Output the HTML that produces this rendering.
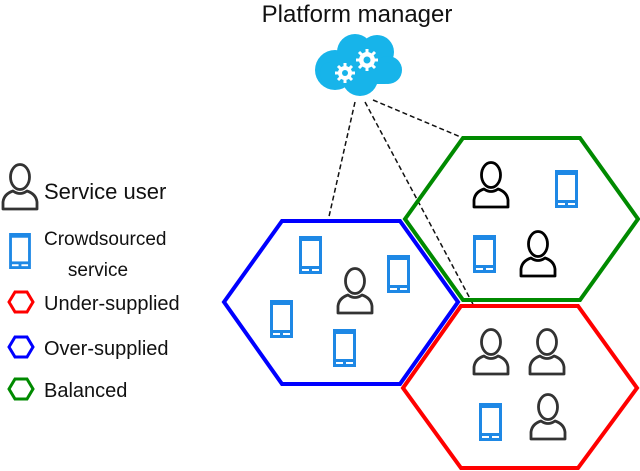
<!DOCTYPE html>
<html><head><meta charset="utf-8"><style>
html,body{margin:0;padding:0;background:#fff;}
svg{display:block;}
text{font-family:"Liberation Sans",sans-serif;fill:#111;}
</style></head><body>
<svg width="640" height="471" viewBox="0 0 640 471" xmlns="http://www.w3.org/2000/svg">
<defs>
<symbol id="p" viewBox="0 0 38 48"><ellipse cx="19" cy="14" rx="9.5" ry="12.5" fill="none" stroke="currentColor" stroke-width="2.8"/><path d="M2,46 V39 Q3,31 12,28 Q19,33 26,28 Q35,31 36,39 V46 Z" fill="none" stroke="currentColor" stroke-width="2.8" stroke-linejoin="round"/></symbol>
<symbol id="t" viewBox="0 0 23 38"><rect x="0" y="0" width="23" height="38" fill="#1e88e5"/><rect x="3" y="5" width="17" height="25" fill="#fff"/><rect x="3" y="33" width="7" height="2" fill="#fff"/><rect x="13" y="33" width="7" height="2" fill="#fff"/></symbol>
</defs>
<text x="357" y="22" font-size="24" text-anchor="middle">Platform manager</text>
<!-- cloud -->
<g fill="#17b4ea">
<circle cx="335" cy="70" r="20"/><circle cx="355" cy="52" r="18"/><circle cx="377" cy="52" r="17"/><circle cx="388" cy="70" r="14"/><circle cx="360" cy="78" r="18"/><rect x="320" y="62" width="75" height="22" rx="10"/>
</g>
<g fill="#fff">
<circle cx="345" cy="73" r="7"/><circle cx="367" cy="60" r="8"/>
</g>
<g fill="none" stroke="#17b4ea"><circle cx="345" cy="73" r="3" fill="#17b4ea" stroke="none"/><circle cx="367" cy="60" r="3.5" fill="#17b4ea" stroke="none"/></g>
<g stroke="#fff" stroke-width="3"><path d="M345,63V83M335,73H355M338,66L352,80M352,66L338,80"/><path d="M367,49V71M356,60H378M359,52L375,68M375,52L359,68"/></g>
<circle cx="345" cy="73" r="3" fill="#17b4ea"/><circle cx="367" cy="60" r="3.5" fill="#17b4ea"/>
<!-- dashed -->
<g stroke="#111" stroke-width="1.5" stroke-dasharray="5,3" fill="none">
<path d="M355,102 L328,221"/><path d="M365,102 L474,306"/><path d="M373,100 L463,138"/>
</g>
<!-- hexagons -->
<polygon points="224,302 282,221 400,221 458,302 400,384 282,384" fill="none" stroke="#0000ff" stroke-width="4"/>
<polygon points="405,219 463,138 580,138 638,219 580,300 463,300" fill="none" stroke="#008a00" stroke-width="4"/>
<polygon points="403,388 461,306 578,306 637,388 578,468 461,468" fill="none" stroke="#ff0000" stroke-width="4"/>
<!-- blue -->
<use href="#t" x="299" y="236" width="23" height="38"/>
<use href="#t" x="387" y="255" width="23" height="38"/>
<use href="#t" x="270" y="300" width="23" height="38"/>
<use href="#t" x="333" y="329" width="23" height="38"/>
<use href="#p" x="336" y="267" width="38" height="48" color="#333"/>
<!-- green -->
<use href="#p" x="472" y="161" width="38" height="48" color="#000"/>
<use href="#t" x="555" y="170" width="23" height="38"/>
<use href="#t" x="473" y="235" width="23" height="38"/>
<use href="#p" x="519" y="230" width="38" height="48" color="#000"/>
<!-- red -->
<use href="#p" x="472" y="328" width="38" height="48" color="#333"/>
<use href="#p" x="528" y="328" width="38" height="48" color="#333"/>
<use href="#t" x="479" y="403" width="23" height="38"/>
<use href="#p" x="529" y="393" width="38" height="48" color="#333"/>
<!-- legend -->
<use href="#p" x="1" y="163" width="38" height="48" color="#333"/>
<text x="44" y="199" font-size="22">Service user</text>
<use href="#t" x="9" y="233" width="22" height="36"/>
<text x="44" y="245" font-size="19">Crowdsourced</text>
<text x="98" y="276" font-size="19" text-anchor="middle">service</text>
<polygon points="9,302 15,292 27,292 33,302 27,312 15,312" fill="none" stroke="#ff0000" stroke-width="3"/>
<text x="44" y="310" font-size="20">Under-supplied</text>
<polygon points="9,347 15,337 27,337 33,347 27,357 15,357" fill="none" stroke="#0000ff" stroke-width="3"/>
<text x="44" y="355" font-size="20">Over-supplied</text>
<polygon points="9,389 15,379 27,379 33,389 27,399 15,399" fill="none" stroke="#008a00" stroke-width="3"/>
<text x="44" y="397" font-size="20">Balanced</text>
</svg>
</body></html>
